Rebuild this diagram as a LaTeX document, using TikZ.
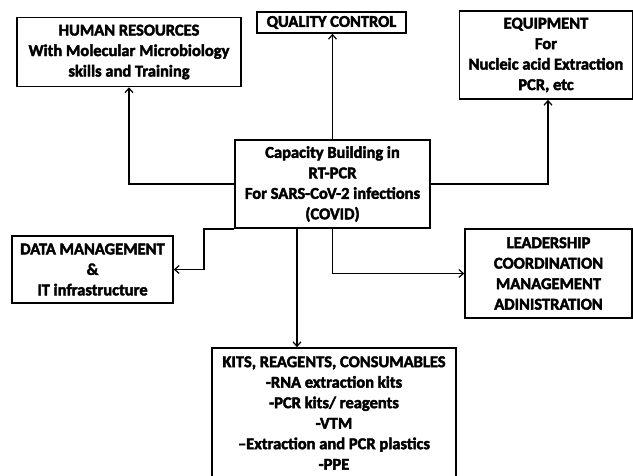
\documentclass[tikz,border=0pt]{standalone}
\usepackage{fontspec}
\setmainfont{Carlito}[BoldFeatures={FakeBold=2.5}]
\usetikzlibrary{arrows.meta,calc}
\begin{document}
\begin{tikzpicture}[x=1pt,y=-1pt,
  box/.style={draw=black,line width=1.6pt,fill=white,align=center,inner sep=0pt,
    font=\bfseries\fontsize{16.5}{20.5}\selectfont},
  conn/.style={line width=1.6pt,-{Straight Barb[length=4.5pt,width=8pt,line width=1.2pt]}}]
\useasboundingbox (0,0) rectangle (633,475);
\clip (0,0) rectangle (633,475);
\node[box,minimum width=224pt,minimum height=69pt] (hr) at (129,52)
  {HUMAN RESOURCES\\With Molecular Microbiology\\skills and Training};
\node[box,minimum width=149pt,minimum height=21pt] (qc) at (331.5,22.5) {QUALITY CONTROL};
\node[box,minimum width=195pt,minimum height=88pt] (ctr) at (332.5,184)
  {Capacity Building in\\RT-PCR\\For SARS-CoV-2 infections\\(COVID)};
\node[box,minimum width=173pt,minimum height=88pt] (eq) at (546,55)
  {EQUIPMENT\\For\\Nucleic acid Extraction\\PCR, etc};
\node[box,minimum width=161pt,minimum height=67pt] (dm) at (92.5,269.5)
  {DATA MANAGEMENT\\\&\\IT infrastructure};
\node[box,minimum width=167pt,minimum height=89pt] (ld) at (548.5,273.5)
  {LEADERSHIP\\COORDINATION\\MANAGEMENT\\ADINISTRATION};
\node[box,minimum width=244pt,minimum height=130pt] (kits) at (334,413)
  {KITS, REAGENTS, CONSUMABLES\\-RNA extraction kits\\-PCR kits/ reagents\\-VTM\\--Extraction and PCR plastics\\-PPE};
\draw[conn] (ctr.west) -| (hr.south);
\draw[conn] (ctr.north) -- (ctr.north |- qc.south);
\draw[conn] (ctr.east) -| ($(eq.south)+(2,0)$);
\draw[conn] (ctr.south west) -- ++(-30,0) |- (dm.east);
\draw[conn] (ctr.south) |- (ld.west);
\coordinate (kx) at ($(ctr.south)+(-35.5,0)$);
\draw[conn] (kx) -- (kx |- kits.north);
\end{tikzpicture}
\end{document}
